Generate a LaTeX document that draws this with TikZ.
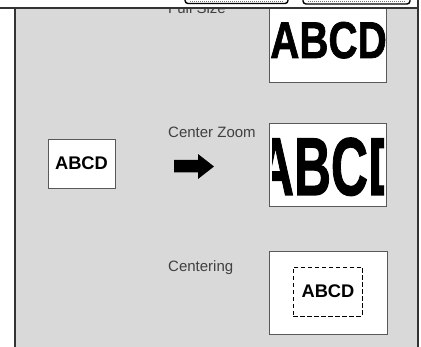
\documentclass[tikz,border=0pt]{standalone}
\usepackage{fontspec}
\setmainfont{Liberation Sans}
\newfontfamily\heavyfont[FakeBold=1.5]{Liberation Sans Bold}
\begin{document}
\begin{tikzpicture}[x=1pt,y=-1pt,
  paper/.style={draw=black!65,line width=0.9pt,fill=white},
  lbl/.style={anchor=base west,inner sep=0pt,text=black!75,font=\fontsize{15}{18}\selectfont},
  big/.style={anchor=base,inner sep=0pt,font=\fontsize{#1}{#1}\selectfont\heavyfont},
  small/.style={anchor=base,inner sep=0pt,font=\fontsize{18.3}{20}\selectfont\bfseries},
  btn/.style={draw=black,line width=1.4pt,rounded corners=3pt,fill=white}]
\useasboundingbox (0,0) rectangle (421,347);
% gray panel
\fill[black!15] (15,8) rectangle (418,347);
% buttons at top (cut off)
\draw[btn] (185,-12) rectangle (288,3.5);
\draw[btn] (303,-12) rectangle (410,4);
\draw[black!55,line width=1pt,dash pattern=on 1pt off 1pt] (190,1.5) -- (283,1.5);
\draw[black!55,line width=1pt,dash pattern=on 1pt off 1pt] (308,2) -- (405,2);
% Full Size
\begin{scope}
\clip (16,9) rectangle (417,347);
\node[lbl] (lfull) at (168,14) {Full Size};
\end{scope}
\node[paper,minimum width=117pt,minimum height=74pt,inner sep=0pt] (full) at (327.5,45.5) {};
\node[big=51.7,xscale=0.78] (tfull) at (328.5,58) {ABCD};
% Center Zoom
\node[lbl] (lzoom) at (168,138) {Center Zoom};
\node[paper,minimum width=117pt,minimum height=83pt,inner sep=0pt] (zoom) at (327.5,165) {};
\begin{scope}
\clip (272,126) rectangle (384,204);
\node[big=82,xscale=0.625] (tzoom) at (331,195) {ABCD};
\end{scope}
% source
\node[paper,minimum width=67pt,minimum height=49pt,inner sep=0pt] (src) at (81.5,163.5) {};
\node[small] (tsrc) at (81.5,170) {ABCD};
% arrow
\fill[black] (174,160) -- (198,160) -- (198,154) -- (214,166.5) -- (198,179) -- (198,172.5) -- (174,172.5) -- cycle;
% Centering
\node[lbl] (lcent) at (168,272) {Centering};
\node[paper,minimum width=118pt,minimum height=83pt,inner sep=0pt] (cent) at (328,292.5) {};
\node[draw=black,line width=0.9pt,dash pattern=on 4.5pt off 2.5pt,minimum width=69pt,minimum height=49pt,inner sep=0pt] (dash) at (327.5,291.5) {};
\node[small] (tcent) at (328,298) {ABCD};
% frame
\draw[black!80,line width=2pt] (14.5,347) -- (14.5,8);
\draw[black!80,line width=2pt] (0,8) -- (419,8);
\draw[black!80,line width=2pt] (418,0) -- (418,347);
\end{tikzpicture}
\end{document}
